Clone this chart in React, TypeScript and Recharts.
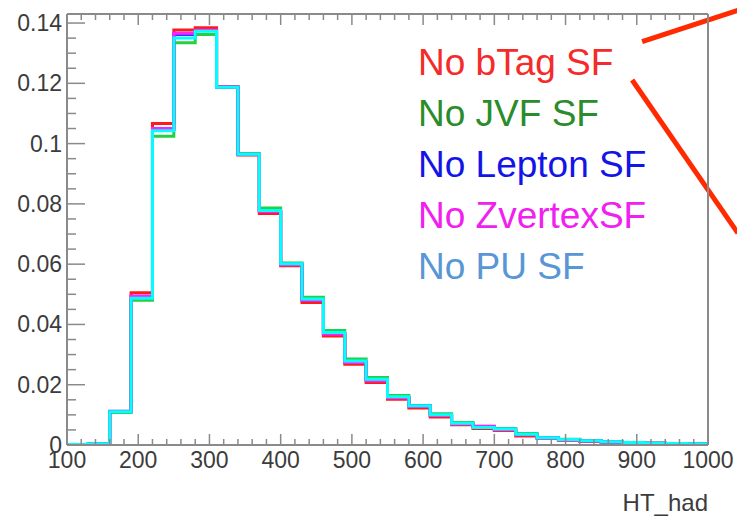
import React from "react";
import { LineChart, Line, XAxis, YAxis, ReferenceLine } from "recharts";

// HT_had histogram, 30 GeV bins from 100 to 1000
const binEdges = [
  100, 130, 160, 190, 220, 250, 280, 310, 340, 370, 400, 430, 460, 490, 520, 550,
  580, 610, 640, 670, 700, 730, 760, 790, 820, 850, 880, 910, 940, 970, 1000,
];

// bin contents (one value per bin, 30 bins)
const noBTag = [
  0.0002, 0.0004, 0.011, 0.0505, 0.1067, 0.1377, 0.1384, 0.1189, 0.0962, 0.0768,
  0.0595, 0.0473, 0.0362, 0.0268, 0.0207, 0.0152, 0.0123, 0.0093, 0.0067, 0.0055,
  0.0048, 0.003, 0.0022, 0.0016, 0.0012, 0.001, 0.0007, 0.0006, 0.0004, 0.0003,
];
const noJVF = [
  0.0002, 0.0004, 0.0108, 0.048, 0.1024, 0.1335, 0.1362, 0.1186, 0.0966, 0.0786,
  0.0604, 0.049, 0.038, 0.0285, 0.0224, 0.0164, 0.0131, 0.0104, 0.0075, 0.006,
  0.0055, 0.0038, 0.0025, 0.0019, 0.0015, 0.0011, 0.0008, 0.0006, 0.0005, 0.0004,
];
const noLepton = [
  0.0002, 0.0004, 0.0112, 0.0492, 0.1048, 0.1362, 0.1375, 0.1188, 0.0965, 0.0776,
  0.06, 0.0481, 0.037, 0.0276, 0.0215, 0.0158, 0.013, 0.0099, 0.0071, 0.0062,
  0.0052, 0.0035, 0.0024, 0.0018, 0.0014, 0.001, 0.0008, 0.0006, 0.0005, 0.0004,
];
const noZvertex = [
  0.0002, 0.0004, 0.0111, 0.0494, 0.105, 0.1366, 0.1376, 0.1188, 0.0964, 0.0775,
  0.0598, 0.048, 0.0368, 0.0274, 0.0213, 0.0157, 0.0128, 0.0098, 0.007, 0.0061,
  0.0051, 0.0034, 0.0023, 0.0017, 0.0013, 0.001, 0.0007, 0.0006, 0.0004, 0.0003,
];
const noPU = [
  0.0002, 0.0004, 0.011, 0.0487, 0.1043, 0.135, 0.1373, 0.1187, 0.0965, 0.0778,
  0.0601, 0.0484, 0.0373, 0.0279, 0.0218, 0.016, 0.013, 0.01, 0.0072, 0.0058,
  0.0053, 0.0036, 0.0024, 0.0018, 0.0014, 0.0011, 0.0008, 0.0006, 0.0005, 0.0004,
];

const seriesNames = ["No bTag SF", "No JVF SF", "No Lepton SF", "No ZvertexSF", "No PU SF"];
const seriesKeys = ["btag", "jvf", "lepton", "zvertex", "pu"];
const seriesValues = [noBTag, noJVF, noLepton, noZvertex, noPU];
const lineColors = ["#ff1a1a", "#22d040", "#3030ff", "#ff20ff", "#00ffff"];
const textColors = ["#f52a2a", "#2a8c2a", "#1414e6", "#f020f0", "#5896d6"];

const xMajorTicks = [100, 200, 300, 400, 500, 600, 700, 800, 900, 1000];
const yMajorTicks = [0, 0.02, 0.04, 0.06, 0.08, 0.1, 0.12, 0.14];

// red call-out strokes drawn to the right of the frame
const callouts = [
  [{ x: 907.5, y: 0.1338 }, { x: 1042, y: 0.1442 }],
  [{ x: 893.5, y: 0.1211 }, { x: 1042, y: 0.0703 }],
];

const xTicks = Array.from({ length: 46 }, (_, i) => 100 + i * 20);
const yTicks = Array.from({ length: 29 }, (_, i) => +(i * 0.005).toFixed(3));

const data = binEdges.map((x, i) => {
  const row: any = { x };
  seriesKeys.forEach((k, s) => {
    const vals = seriesValues[s];
    row[k] = vals[Math.min(i, vals.length - 1)];
  });
  return row;
});

const FRAME = "#8a8a8a";
const FONT = '"Liberation Sans", Arial, Helvetica, sans-serif';
const LABEL = "#3c3c3c";

const isMajorX = (v: number) => v % 100 === 0;
const isMajorY = (v: number) => Math.round(v * 1000) % 20 === 0;

const BottomTick = ({ x, y, payload }: any) => {
  const v = payload.value;
  const major = isMajorX(v);
  return (
    <g>
      <line x1={x} x2={x} y1={y} y2={y - (major ? 11 : 6)} stroke={FRAME} strokeWidth={1.5} />
      {xMajorTicks.includes(v) && (
        <text x={x} y={y + 23} textAnchor="middle" fontSize={23} fill={LABEL} fontFamily={FONT}>
          {v}
        </text>
      )}
    </g>
  );
};

const TopTick = ({ x, y, payload }: any) => {
  const major = isMajorX(payload.value);
  return <line x1={x} x2={x} y1={y} y2={y + (major ? 11 : 6)} stroke={FRAME} strokeWidth={1.5} />;
};

const LeftTick = ({ x, y, payload }: any) => {
  const v = payload.value;
  const major = isMajorY(v);
  return (
    <g>
      <line x1={x} x2={x + (major ? 18 : 9)} y1={y} y2={y} stroke={FRAME} strokeWidth={1.5} />
      {yMajorTicks.includes(v) && (
        <text x={x - 5} y={y + 8} textAnchor="end" fontSize={23} fill={LABEL} fontFamily={FONT}>
          {String(v)}
        </text>
      )}
    </g>
  );
};

const RightTick = ({ x, y, payload }: any) => {
  const major = isMajorY(payload.value);
  return <line x1={x} x2={x - (major ? 18 : 9)} y1={y} y2={y} stroke={FRAME} strokeWidth={1.5} />;
};

export default function App() {
  return (
    <div style={{ position: "absolute", left: 0, top: 0, width: 737, height: 517, background: "#fff" }}>
      <LineChart width={737} height={517} data={data} margin={{ top: 0, right: 0, bottom: 0, left: 0 }}>
        <XAxis
          dataKey="x"
          type="number"
          domain={[100, 1000]}
          ticks={xTicks}
          interval={0}
          height={72}
          tickSize={0}
          tickMargin={0}
          tick={<BottomTick />}
          axisLine={{ stroke: FRAME, strokeWidth: 2 }}
          label={{
            content: ({ viewBox }: any) => (
              <text
                x={viewBox.x + viewBox.width}
                y={viewBox.y + 66}
                textAnchor="end"
                fontSize={24}
                fill={LABEL}
                fontFamily={FONT}
              >
                HT_had
              </text>
            ),
          }}
        />
        <XAxis
          xAxisId="top"
          orientation="top"
          dataKey="x"
          type="number"
          domain={[100, 1000]}
          ticks={xTicks}
          interval={0}
          height={14}
          tickSize={0}
          tickMargin={0}
          tick={<TopTick />}
          axisLine={{ stroke: FRAME, strokeWidth: 2 }}
        />
        <YAxis
          type="number"
          domain={[0, 0.143]}
          ticks={yTicks}
          interval={0}
          width={67}
          tickSize={0}
          tickMargin={0}
          tick={<LeftTick />}
          axisLine={{ stroke: FRAME, strokeWidth: 2 }}
        />
        <YAxis
          yAxisId="right"
          orientation="right"
          type="number"
          domain={[0, 0.143]}
          ticks={yTicks}
          interval={0}
          width={29}
          tickSize={0}
          tickMargin={0}
          tick={<RightTick />}
          axisLine={{ stroke: FRAME, strokeWidth: 2 }}
        />
        {seriesKeys.map((k, s) => (
          <Line
            key={k}
            dataKey={k}
            name={seriesNames[s]}
            type="stepAfter"
            stroke={lineColors[s]}
            strokeWidth={3}
            dot={false}
            activeDot={false}
            isAnimationActive={false}
          />
        ))}
        {callouts.map((seg, i) => (
          <ReferenceLine
            key={i}
            segment={seg}
            ifOverflow="visible"
            stroke="#ff2a00"
            strokeWidth={5}
          />
        ))}
      </LineChart>
      <div
        style={{
          position: "absolute",
          left: 418,
          top: 37,
          fontFamily: FONT,
          fontSize: 37,
          lineHeight: "51px",
          whiteSpace: "nowrap",
        }}
      >
        {seriesNames.map((n, s) => (
          <div key={n} style={{ color: textColors[s] }}>
            {n}
          </div>
        ))}
      </div>
    </div>
  );
}
